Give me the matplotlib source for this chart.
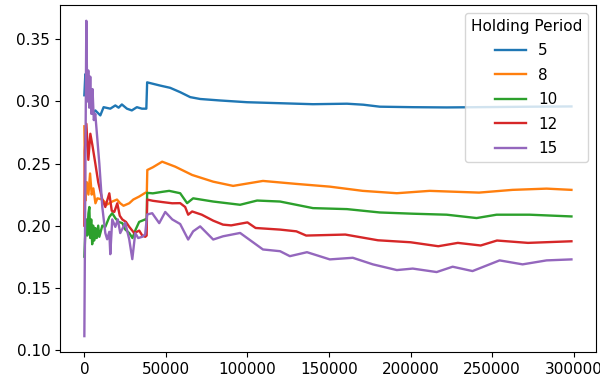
import matplotlib
matplotlib.use("Agg")
import matplotlib.pyplot as plt

plt.rcParams["font.size"] = 11

# Holding period 5
x5 = [0, 600, 1500, 2500, 3500, 5000, 6700, 9800, 11800, 15900, 19000, 21000, 23000, 26100,
      29100, 32200, 35300, 38000, 38500, 46500, 52600, 58750, 64900, 71000, 83200, 99750,
      120000, 140150, 161000, 171000, 181150, 201350, 222150, 250000, 275000, 298650]
y5 = [0.305, 0.322, 0.310, 0.318, 0.300, 0.290, 0.2928, 0.2888, 0.2954, 0.2942, 0.2968, 0.2950,
      0.2976, 0.2942, 0.2928, 0.2954, 0.2942, 0.2942, 0.3154, 0.3128, 0.3110, 0.3075, 0.3035,
      0.3020, 0.3008, 0.2994, 0.2986, 0.2978, 0.2982, 0.2974, 0.2958, 0.2954, 0.2952, 0.2955,
      0.2958, 0.2960]

# Holding period 8
x8 = [0, 600, 1500, 2500, 3500, 4500, 5500, 6800, 8000, 11000, 14000, 17100, 20000, 22000,
      24000, 27500, 30000, 33600, 37300, 38300, 38600, 42000, 47700, 55700, 66100, 79000,
      91200, 109500, 130000, 150500, 170700, 191600, 211700, 242000, 262500, 283400, 298650]
y8 = [0.280, 0.220, 0.235, 0.225, 0.242, 0.225, 0.230, 0.218, 0.222, 0.221, 0.217, 0.2194,
      0.221, 0.218, 0.216, 0.218, 0.221, 0.2234, 0.2264, 0.2270, 0.2448, 0.2470, 0.2515,
      0.2475, 0.2408, 0.2354, 0.2320, 0.2360, 0.2336, 0.2314, 0.2280, 0.2261, 0.2280, 0.2266,
      0.2288, 0.2298, 0.2288]

# Holding period 10
x10 = [0, 600, 1200, 1800, 2500, 3060, 3600, 4200, 4800, 5400, 6000, 6800, 7600, 8500, 9180,
       11000, 12850, 15300, 17100, 19000, 21000, 23300, 25000, 27500, 29500, 31500, 33600,
       37300, 38200, 38500, 42000, 47700, 52000, 58750, 63000, 66700, 79000, 95500, 105900,
       120000, 140150, 161000, 181150, 201350, 222150, 240500, 252750, 273000, 298650]
y10 = [0.175, 0.195, 0.205, 0.192, 0.210, 0.215, 0.190, 0.205, 0.185, 0.200, 0.188, 0.198,
       0.190, 0.200, 0.191, 0.200, 0.199, 0.207, 0.210, 0.206, 0.203, 0.202, 0.197, 0.194,
       0.190, 0.197, 0.203, 0.205, 0.204, 0.2264, 0.2260, 0.2272, 0.2280, 0.2261, 0.2181,
       0.2220, 0.2194, 0.2168, 0.2202, 0.2194, 0.2141, 0.2133, 0.2106, 0.2096, 0.2088, 0.2061,
       0.2088, 0.2088, 0.2074]

# Holding period 12
x12 = [0, 300, 1224, 2448, 3672, 4900, 6732, 8500, 11016, 12852, 15300, 16800, 18360, 20196,
       21700, 23256, 25500, 27540, 30600, 33660, 35500, 37332, 38200, 38500, 42000, 47700,
       53856, 58750, 61812, 63650, 66100, 72000, 79000, 85000, 90000, 100000, 105000, 120000,
       130000, 136000, 160000, 180000, 200000, 217000, 229000, 243000, 253000, 272000, 298650]
y12 = [0.200, 0.260, 0.282, 0.253, 0.274, 0.265, 0.250, 0.235, 0.221, 0.215, 0.226, 0.212,
       0.211, 0.218, 0.208, 0.205, 0.203, 0.199, 0.194, 0.196, 0.192, 0.191, 0.192, 0.2210,
       0.2200, 0.2190, 0.2180, 0.2181, 0.2150, 0.2088, 0.2114, 0.2088, 0.2040, 0.2008, 0.2002,
       0.2026, 0.1981, 0.1968, 0.1954, 0.1920, 0.1928, 0.1882, 0.1866, 0.1834, 0.1861, 0.1840,
       0.1880, 0.1861, 0.1874]

# Holding period 15
x15 = [0, 1200, 1800, 2400, 3000, 3600, 4300, 5000, 5800, 6700, 9180, 11000, 12850, 14000,
       15300, 15900, 17100, 19000, 20500, 22000, 25100, 27500, 29400, 31200, 33000, 35500,
       37300, 38500, 41600, 45900, 49600, 53900, 58750, 63650, 66700, 71000, 79000, 85000,
       95500, 109500, 120000, 126000, 136500, 150500, 164600, 176900, 191600, 201350, 216000,
       225800, 238000, 254600, 268700, 283400, 298650]
y15 = [0.111, 0.365, 0.300, 0.325, 0.295, 0.320, 0.290, 0.310, 0.285, 0.290, 0.250, 0.215,
       0.194, 0.189, 0.195, 0.177, 0.205, 0.199, 0.205, 0.194, 0.2022, 0.189, 0.173, 0.194,
       0.190, 0.191, 0.193, 0.209, 0.210, 0.202, 0.211, 0.205, 0.2013, 0.1888, 0.1954, 0.1994,
       0.1888, 0.1914, 0.1941, 0.1808, 0.1794, 0.1754, 0.1786, 0.1728, 0.1741, 0.1688, 0.1642,
       0.1654, 0.1626, 0.1669, 0.1634, 0.1720, 0.1688, 0.1720, 0.1728]

series = [("5", x5, y5), ("8", x8, y8), ("10", x10, y10), ("12", x12, y12), ("15", x15, y15)]

fig, ax = plt.subplots(figsize=(6.0, 3.85), dpi=100)
fig.subplots_adjust(left=0.1, right=0.993, top=0.987, bottom=0.086)
for label, xs, ys in series:
    ax.plot(xs, ys, label=label, linewidth=1.7)
ax.legend(title="Holding Period", loc="upper right", labelspacing=0.62)
fig.savefig("out.png", dpi=100)
